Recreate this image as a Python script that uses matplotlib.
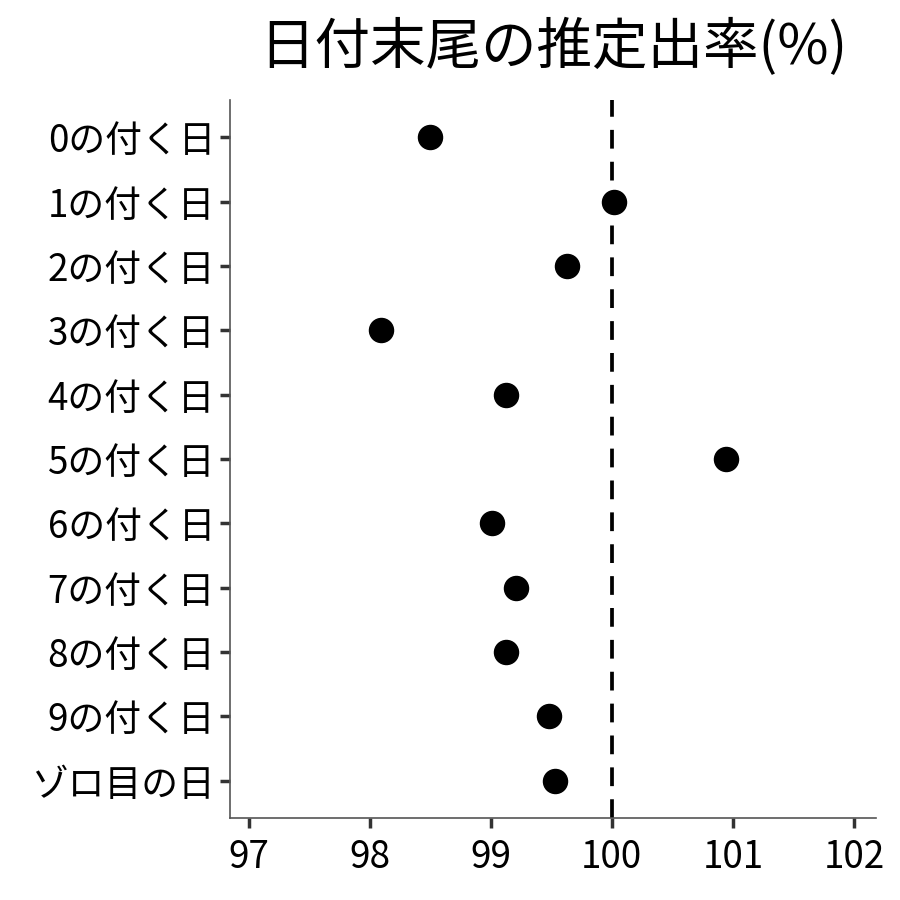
import matplotlib
matplotlib.use("Agg")
import matplotlib.pyplot as plt

plt.rcParams['font.family'] = ['Noto Sans CJK JP', 'DejaVu Sans']

labels = ['0の付く日', '1の付く日', '2の付く日', '3の付く日', '4の付く日',
          '5の付く日', '6の付く日', '7の付く日', '8の付く日', '9の付く日', 'ゾロ目の日']
rates = [98.50, 100.02, 99.63, 98.09, 99.13, 100.94, 99.01, 99.21, 99.13, 99.48, 99.53]
xticks = [97, 98, 99, 100, 101, 102]

fig = plt.figure(figsize=(9, 9), dpi=100)
ax = fig.add_axes([0.256, 0.091, 0.717, 0.798])

ypos = list(range(len(labels)))[::-1]
ax.scatter(rates, ypos, s=300, color='black', zorder=3)
ax.axvline(100, color='black', linestyle=(0, (5, 3.5)), linewidth=2.7, zorder=2)

ax.set_xlim(96.85, 102.18)
ax.set_ylim(-0.58, len(labels) - 0.42)
ax.set_xticks(xticks)
ax.set_xticklabels([str(t) for t in xticks])
ax.set_yticks(ypos)
ax.set_yticklabels(labels)

for s in ['top', 'right']:
    ax.spines[s].set_visible(False)
for s in ['left', 'bottom']:
    ax.spines[s].set_color('#555555')
    ax.spines[s].set_linewidth(1.2)
ax.tick_params(axis='both', colors='#333333', labelcolor='black',
               length=7, width=2.5, labelsize=26.5, pad=4)
ax.tick_params(axis='x', pad=7)

ax.set_title('日付末尾の推定出率(%)', fontsize=40, pad=26)

fig.savefig('out.png', dpi=100)
